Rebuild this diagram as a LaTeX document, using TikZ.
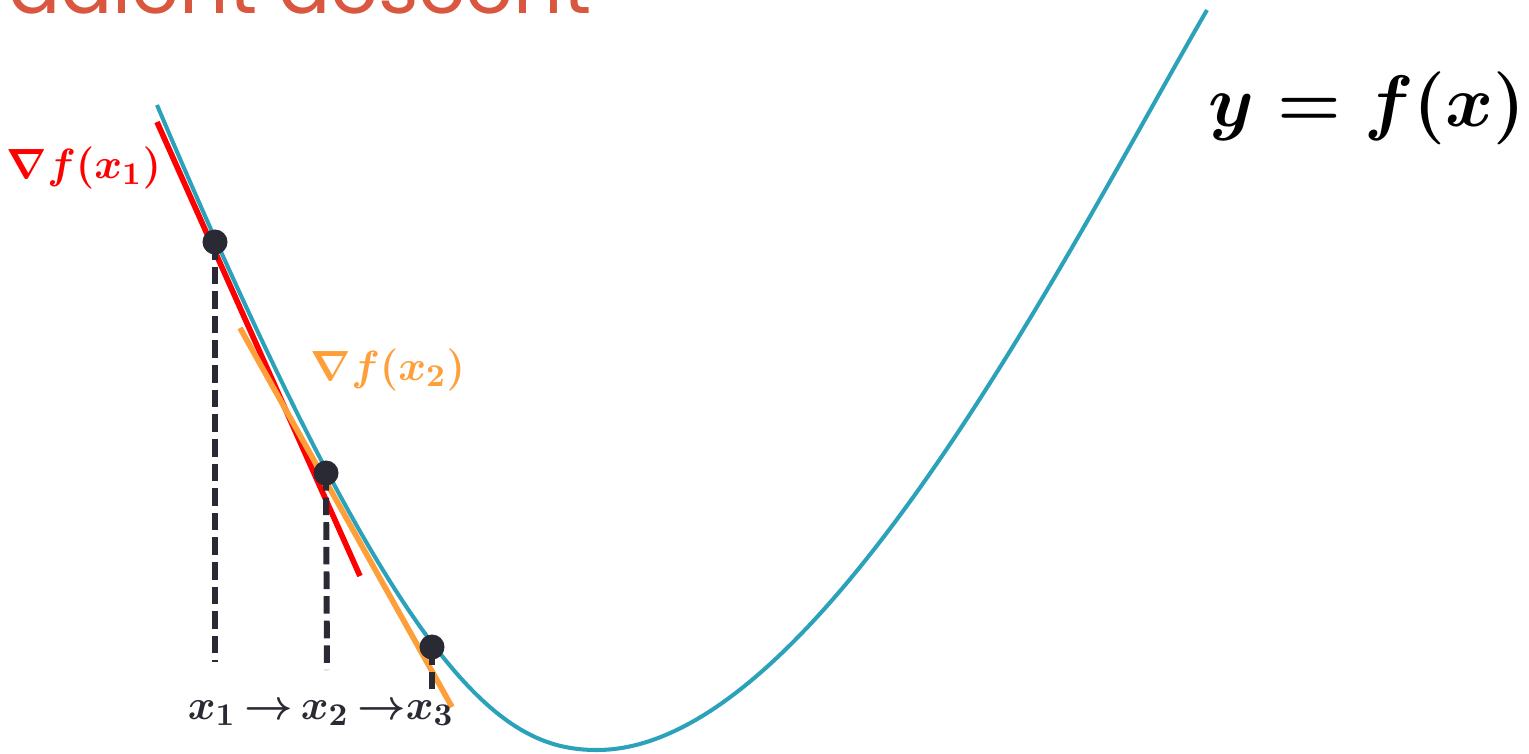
\documentclass[tikz,border=0pt]{standalone}
\usepackage{fontspec}
\usepackage{amsmath,bm}
\newfontfamily\titlefont{Poppins}
\usetikzlibrary{calc,positioning}
\definecolor{CurveBlue}{HTML}{2BA2B9}
\definecolor{GradRed}{HTML}{FF0000}
\definecolor{GradOrange}{HTML}{FF9F3A}
\definecolor{PointDark}{HTML}{2A2A35}
\definecolor{TitleRed}{HTML}{D9573F}

\begin{document}
\begin{tikzpicture}[x=0.01cm,y=-0.01cm,
    curve/.style={draw=CurveBlue,line width=1.15pt},
    tangent/.style={line width=1.6pt},
    point/.style={circle,fill=PointDark,inner sep=0pt,minimum size=0.25cm},
    drop/.style={draw=PointDark,line width=1.7pt,dash pattern=on 5pt off 2pt}
  ]
  \useasboundingbox (0,0) rectangle (1529,754);
  % cut off title
  \node[anchor=base east,inner sep=0pt,text=TitleRed,font=\titlefont\fontsize{22}{26}\selectfont] (title) at (592,13) {Gradient descent};

  % the function
  \draw[curve] (157,105) .. controls (401,680) and (500,750) .. (597,750)
    .. controls (817,750) and (1068,250) .. (1207,10);
  \node[font=\fontsize{20}{24}\selectfont\boldmath] (fx) at (1367,108) {$y=f(x)$};

  % tangents
  \coordinate (r1) at (157,122);
  \coordinate (r2) at (360,576);
  \coordinate (o1) at (240,328);
  \coordinate (o2) at (452,707);
  \draw[tangent,draw=GradRed] (r1) -- (r2);
  \draw[tangent,draw=GradOrange] (o1) -- (o2);
  \node[text=GradRed,font=\fontsize{13}{16}\selectfont\boldmath] (g1) at (84,168) {$\nabla f(x_1)$};
  \node[text=GradOrange,font=\fontsize{13}{16}\selectfont\boldmath] (g2) at (388,370) {$\nabla f(x_2)$};

  % iterates
  \node[point] (p1) at (215,242) {};
  \node[point] (p2) at (326,473) {};
  \node[point] (p3) at (432,647) {};
  \coordinate (b1) at (215,662);
  \coordinate (b2) at (327,670);
  \coordinate (b3) at (432,693);
  \draw[drop] (p1.center) -- (b1);
  \draw[drop] (p2.center) -- (b2);
  \draw[drop] (p3.center) -- (b3);
  \node[text=PointDark,font=\fontsize{13}{16}\selectfont\boldmath] (steps) at (321,713) {$x_1\,{\rightarrow}\,x_2\,{\rightarrow}x_3$};
\end{tikzpicture}
\end{document}
